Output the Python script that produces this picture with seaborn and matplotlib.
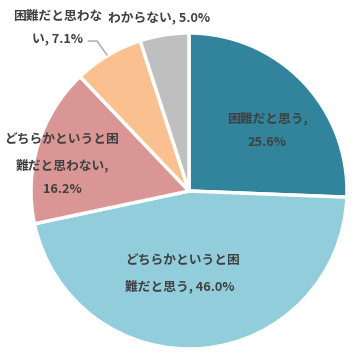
import matplotlib
matplotlib.use("Agg")
import matplotlib.pyplot as plt
import seaborn as sns

labels = ["困難だと思う", "どちらかというと困難だと思う", "どちらかというと困難だと思わない",
          "困難だと思わない", "わからない"]
values = [25.6, 46.0, 16.2, 7.1, 5.0]
colors = ["#31849B", "#92CDDC", "#DA9694", "#FAC090", "#BFBFBF"]

# label text as it wraps in the original
label_texts = ["困難だと思う,\n25.6%", "どちらかというと困\n難だと思う, 46.0%",
               "どちらかというと困\n難だと思わない,\n16.2%", "困難だと思わな\nい, 7.1%",
               "わからない, 5.0%"]
label_pos = [(0.494, 0.383), (-0.04, -0.527), (-0.804, 0.165), (-0.83, 1.03), (-0.19, 1.09)]
label_align = ["center", "left", "center", "center", "center"]

sns.set_theme(style="white")
plt.rcParams['font.family'] = ['Noto Sans CJK JP', 'DejaVu Sans']

fig = plt.figure(figsize=(3.55, 3.59), dpi=100)
ax = fig.add_axes([31 / 355, 10 / 359, 316 / 355, 316 / 359])
ax.pie(values, colors=colors, startangle=90, counterclock=False, radius=1,
       wedgeprops=dict(edgecolor="white", linewidth=2.5))
ax.set_xlim(-1, 1)
ax.set_ylim(-1, 1)
ax.axis("off")

for txt, (x, y), al in zip(label_texts, label_pos, label_align):
    ax.text(x, y, txt, ha="center", va="center", fontsize=9.2, fontweight="bold",
            color="#404040", linespacing=2.1, clip_on=False, multialignment=al)

# leader line for the small slice
ax.plot([-0.639, -0.582, -0.519], [0.949, 0.949, 0.861], color="#A6A6A6", lw=1, clip_on=False)

fig.savefig("out.png", dpi=100)
